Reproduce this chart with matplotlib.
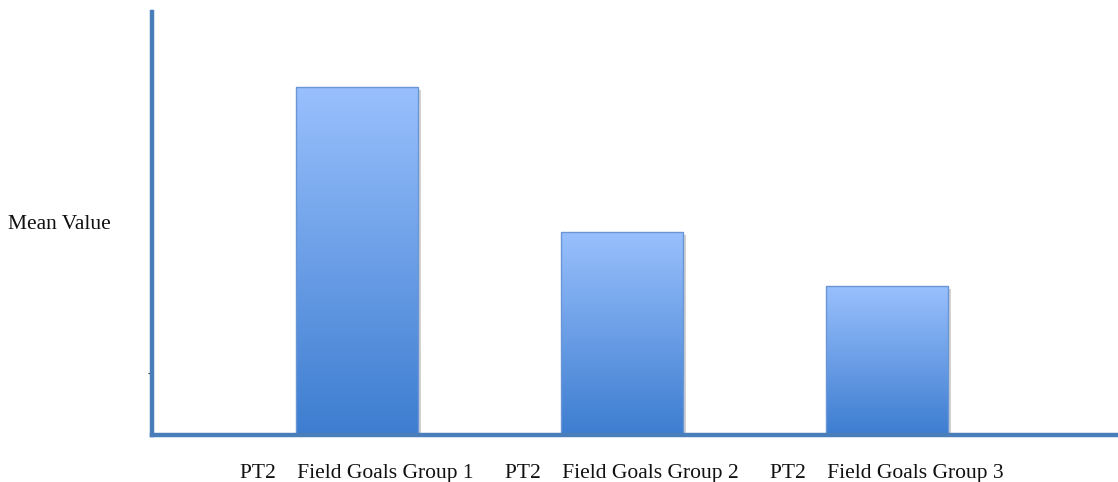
import numpy as np
import matplotlib
matplotlib.use('Agg')
from matplotlib import pyplot as plt
from matplotlib import patheffects as pe
from matplotlib.colors import LinearSegmentedColormap

# chart data
groups = ['PT2    Field Goals Group 1', 'PT2    Field Goals Group 2', 'PT2    Field Goals Group 3']
mean_values = [8.23, 4.80, 3.52]

plt.rcParams['font.family'] = ['Liberation Serif', 'DejaVu Serif']

fig = plt.figure(figsize=(11.18, 4.82), dpi=100)
ax = fig.add_axes([152 / 1118, 47 / 482, 966 / 1118, 423 / 482])

axis_color = '#4a7ebb'
bar_cmap = LinearSegmentedColormap.from_list('barfill', ['#3d7dd0', '#99c0fd'])

xs = np.arange(len(groups))
bar_w = 0.46

# white base bars carry the drop shadow
base = ax.bar(xs, mean_values, width=bar_w, color='white', linewidth=0, zorder=1)
for b in base:
    b.set_path_effects([pe.SimplePatchShadow(offset=(2, -2), alpha=0.25), pe.Normal()])

# vertical gradient inside every bar, clipped to the bar's rectangle
grad = np.linspace(0, 1, 256).reshape(-1, 1)
for b in base:
    x0, y0 = b.get_x(), b.get_y()
    w, h = b.get_width(), b.get_height()
    im = ax.imshow(grad, cmap=bar_cmap, origin='lower', aspect='auto',
                   extent=[x0, x0 + w, y0, y0 + h], zorder=2,
                   interpolation='bilinear')
    im.set_clip_path(b)

# thin outline on top
ax.bar(xs, mean_values, width=bar_w, color='none', edgecolor='#6a96d6',
       linewidth=1.0, zorder=3)

ax.set_xlim(-0.774, 2.872)
ax.set_ylim(0, 10)

for side in ['top', 'right']:
    ax.spines[side].set_visible(False)
for side in ['left', 'bottom']:
    ax.spines[side].set_color(axis_color)
    ax.spines[side].set_linewidth(3.2)
    ax.spines[side].set_zorder(4)
    ax.spines[side].set_path_effects([pe.SimplePatchShadow(offset=(1.5, -2), alpha=0.3), pe.Normal()])

ax.set_xticks(xs)
ax.set_xticklabels(groups, fontsize=15.5, color='#111111')
ax.tick_params(axis='x', length=0, pad=21)
ax.set_yticks([1.47])
ax.set_yticklabels([''])
ax.tick_params(axis='y', length=3, width=0.8, color='#333333')

fig.text(0.007, 0.535, 'Mean Value', fontsize=15.5, ha='left', va='center', color='#111111')

fig.savefig('out.png', dpi=100)
